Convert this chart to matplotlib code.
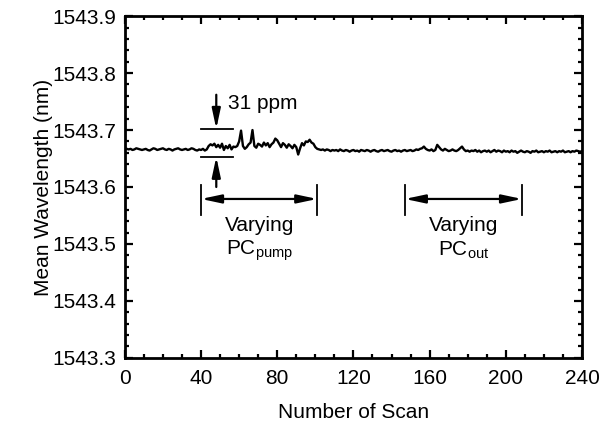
import matplotlib
matplotlib.use("Agg")
import matplotlib.pyplot as plt
from matplotlib.ticker import MultipleLocator

plt.rcParams['font.family'] = ['Liberation Sans', 'DejaVu Sans']
plt.rcParams['mathtext.fontset'] = 'custom'
plt.rcParams['mathtext.rm'] = 'Liberation Sans'
plt.rcParams['mathtext.it'] = 'Liberation Sans'

# scan number 0..240, mean wavelength (nm)
scans = list(range(241))
wavelength = [
    1543.668, 1543.667, 1543.666, 1543.667, 1543.665, 1543.666, 1543.668, 1543.667, 1543.666, 1543.665,
    1543.666, 1543.667, 1543.665, 1543.664, 1543.666, 1543.668, 1543.667, 1543.665, 1543.666, 1543.667,
    1543.668, 1543.666, 1543.665, 1543.667, 1543.666, 1543.664, 1543.666, 1543.667, 1543.668, 1543.666,
    1543.665, 1543.666, 1543.667, 1543.665, 1543.666, 1543.668, 1543.667, 1543.665, 1543.664, 1543.666,
    1543.665, 1543.667, 1543.664, 1543.666, 1543.672, 1543.675, 1543.673, 1543.676, 1543.670, 1543.674,
    1543.669, 1543.676, 1543.665, 1543.672, 1543.668, 1543.674, 1543.666, 1543.671, 1543.670, 1543.672,
    1543.680, 1543.699, 1543.672, 1543.667, 1543.670, 1543.675, 1543.678, 1543.700, 1543.672, 1543.669,
    1543.676, 1543.674, 1543.671, 1543.678, 1543.673, 1543.677, 1543.670, 1543.675, 1543.678, 1543.685,
    1543.682, 1543.676, 1543.670, 1543.677, 1543.674, 1543.669, 1543.675, 1543.672, 1543.668, 1543.674,
    1543.670, 1543.657, 1543.668, 1543.677, 1543.673, 1543.680, 1543.679, 1543.683, 1543.678, 1543.676,
    1543.670, 1543.667, 1543.666, 1543.665, 1543.666, 1543.664, 1543.666, 1543.665, 1543.663, 1543.665,
    1543.664, 1543.665, 1543.663, 1543.666, 1543.664, 1543.663, 1543.665, 1543.664, 1543.662, 1543.664,
    1543.665, 1543.663, 1543.664, 1543.662, 1543.665, 1543.664, 1543.663, 1543.665, 1543.664, 1543.662,
    1543.664, 1543.665, 1543.663, 1543.662, 1543.664, 1543.665, 1543.663, 1543.664, 1543.665, 1543.663,
    1543.662, 1543.664, 1543.665, 1543.663, 1543.664, 1543.662, 1543.664, 1543.665, 1543.663, 1543.664,
    1543.665, 1543.663, 1543.664, 1543.666, 1543.665, 1543.667, 1543.668, 1543.671, 1543.667, 1543.665,
    1543.664, 1543.666, 1543.663, 1543.665, 1543.674, 1543.670, 1543.666, 1543.664, 1543.667, 1543.665,
    1543.663, 1543.664, 1543.666, 1543.664, 1543.663, 1543.665, 1543.668, 1543.671, 1543.666, 1543.663,
    1543.664, 1543.662, 1543.664, 1543.663, 1543.665, 1543.662, 1543.664, 1543.661, 1543.663, 1543.664,
    1543.662, 1543.664, 1543.661, 1543.663, 1543.665, 1543.662, 1543.664, 1543.663, 1543.661, 1543.664,
    1543.662, 1543.663, 1543.661, 1543.664, 1543.662, 1543.663, 1543.660, 1543.662, 1543.664, 1543.662,
    1543.661, 1543.663, 1543.662, 1543.660, 1543.663, 1543.662, 1543.664, 1543.661, 1543.662, 1543.663,
    1543.661, 1543.663, 1543.662, 1543.664, 1543.661, 1543.662, 1543.663, 1543.661, 1543.663, 1543.662,
    1543.664, 1543.661, 1543.662, 1543.663, 1543.661, 1543.663, 1543.662, 1543.664, 1543.663, 1543.662,
    1543.663,
]

# annotation values
ppm_top, ppm_bot = 1543.702, 1543.653
ppm_x = 48
pump_range = (40, 101)
out_range = (147, 208.5)
bar_y = 1543.579

fs = 15
head = '-|>,head_length=0.75,head_width=0.16'
head2 = '<|-|>,head_length=0.75,head_width=0.16'

fig = plt.figure(figsize=(6.12, 4.25), dpi=100)
ax = fig.add_axes([0.204, 0.158, 0.747, 0.804])
ax.plot(scans, wavelength, color='black', lw=1.7)

ax.set_xlim(0, 240)
ax.set_ylim(1543.3, 1543.9)
ax.xaxis.set_major_locator(MultipleLocator(40))
ax.xaxis.set_minor_locator(MultipleLocator(10))
ax.yaxis.set_major_locator(MultipleLocator(0.1))
ax.yaxis.set_minor_locator(MultipleLocator(0.02))
ax.yaxis.set_major_formatter(plt.FormatStrFormatter('%.1f'))
ax.tick_params(which='both', direction='in', top=True, right=True, labelsize=fs, width=1.6)
ax.tick_params(which='major', length=6)
ax.tick_params(which='minor', length=3)
ax.tick_params(axis='x', pad=8)
ax.tick_params(axis='y', pad=6)
for sp in ax.spines.values():
    sp.set_linewidth(2)
ax.set_xlabel('Number of Scan', fontsize=fs, labelpad=11)
ax.set_ylabel('Mean Wavelength (nm)', fontsize=fs, labelpad=0)

# 31 ppm marker
ax.plot([40, 57], [ppm_top, ppm_top], color='black', lw=1.3)
ax.plot([40, 57], [ppm_bot, ppm_bot], color='black', lw=1.3)
ax.annotate('', xy=(ppm_x, ppm_top), xytext=(ppm_x, 1543.762),
            arrowprops=dict(arrowstyle=head, color='black', lw=1.6,
                            mutation_scale=16, shrinkA=0, shrinkB=0))
ax.annotate('', xy=(ppm_x, ppm_bot), xytext=(ppm_x, 1543.600),
            arrowprops=dict(arrowstyle=head, color='black', lw=1.6,
                            mutation_scale=16, shrinkA=0, shrinkB=0))
ax.text(54, 1543.747, '31 ppm', fontsize=fs, va='center', ha='left')

# varying ranges
for (x0, x1), lab in [(pump_range, 'PC$_{\\mathrm{pump}}$'), (out_range, 'PC$_{\\mathrm{out}}$')]:
    ax.annotate('', xy=(x1, bar_y), xytext=(x0, bar_y),
                arrowprops=dict(arrowstyle=head2, color='black', lw=1.6,
                                mutation_scale=16, shrinkA=0, shrinkB=0))
    ax.plot([x0, x0], [1543.551, 1543.604], color='black', lw=1.3)
    ax.plot([x1, x1], [1543.551, 1543.604], color='black', lw=1.3)
    xc = (x0 + x1) / 2
    ax.text(xc, 1543.532, 'Varying', fontsize=fs, ha='center', va='center')
    ax.text(xc, 1543.488, lab, fontsize=fs, ha='center', va='center')

fig.savefig('out.png', dpi=100)
